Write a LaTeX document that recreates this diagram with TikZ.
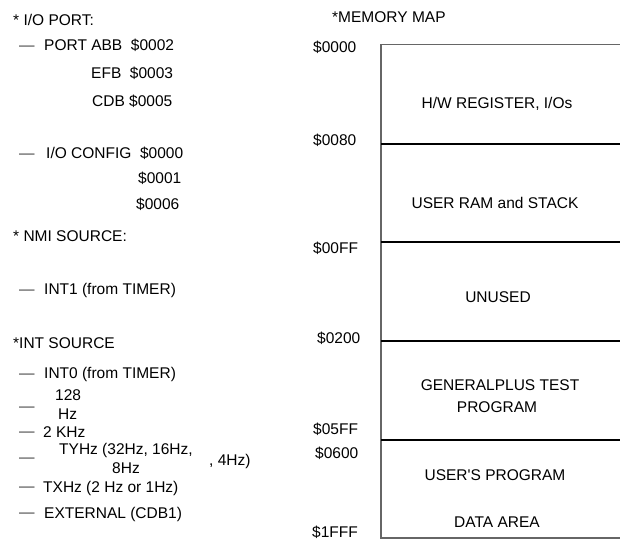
\documentclass[tikz,border=0pt]{standalone}
\usepackage{fontspec}
\setmainfont{Liberation Sans}[Ligatures=TeXOff]
\begin{document}
\begin{tikzpicture}[x=1pt,y=-1pt,
  lbl/.style={anchor=base west,inner sep=0pt,font=\fontsize{15.5}{17}\selectfont},
  ctr/.style={anchor=base,inner sep=0pt,font=\fontsize{15.5}{17}\selectfont},
  dsh/.style={anchor=base west,inner sep=0pt,font=\fontsize{15.5}{17}\selectfont,text=black!75},
  outline/.style={draw=black!60,line width=1.1pt},
  divider/.style={draw=black,line width=1.6pt}]
\useasboundingbox (0,0) rectangle (620,542);
% left column
\node[lbl] (io) at (13,25.5) {* I/O PORT:};
\node[dsh] (d1) at (19,50.2) {—};
\node[lbl] (pabb) at (44,50.5) {PORT ABB\ \ \$0002};
\node[lbl] (efb) at (91,78.5) {EFB\ \ \$0003};
\node[lbl] (cdb) at (92,106.5) {CDB \$0005};
\node[dsh] (d2) at (19,158.2) {—};
\node[lbl] (iocfg) at (46,158.5) {I/O CONFIG\ \ \$0000};
\node[lbl] (c1) at (138,183.5) {\$0001};
\node[lbl] (c6) at (136,209.5) {\$0006};
\node[lbl] (nmi) at (13,241.5) {* NMI SOURCE:};
\node[dsh] (d3) at (19,294.2) {—};
\node[lbl] (int1) at (44,294.5) {INT1 (from TIMER)};
\node[lbl] (ints) at (13,348.5) {*INT SOURCE};
\node[dsh] (d4) at (19,378.2) {—};
\node[lbl] (int0) at (44,378.5) {INT0 (from TIMER)};
\node[dsh] (d5) at (19,411.2) {—};
\node[lbl] (h128) at (55,400.5) {128};
\node[lbl] (hz) at (58,419.5) {Hz};
\node[dsh] (d6) at (19,436.2) {—};
\node[lbl] (k2) at (43,437.5) {2 KHz};
\node[dsh] (d7) at (19,462.2) {—};
\node[lbl] (ty) at (59,454.5) {TYHz (32Hz, 16Hz,};
\node[lbl] (hz8) at (112,473.5) {8Hz};
\node[lbl] (hz4) at (209,465.5) {, 4Hz)};
\node[dsh] (d8) at (19,491.2) {—};
\node[lbl] (tx) at (43,492.5) {TXHz (2 Hz or 1Hz)};
\node[dsh] (d9) at (19,517.2) {—};
\node[lbl] (ext) at (44,518.5) {EXTERNAL (CDB1)};
% memory map
\node[lbl] (mm) at (332,22.5) {*MEMORY MAP};
\node[lbl] (a0) at (313,52.5) {\$0000};
\node[lbl] (a80) at (313,145.5) {\$0080};
\node[lbl] (aff) at (313,253.5) {\$00FF};
\node[lbl] (a200) at (317,343.5) {\$0200};
\node[lbl] (a5ff) at (313,434.5) {\$05FF};
\node[lbl] (a600) at (315,458.5) {\$0600};
\node[lbl] (a1fff) at (312,537.5) {\$1FFF};
\draw[outline] (621,44.5) -- (381,44.5) -- (381,538) -- (621,538);
\draw[divider] (381,144) -- (621,144);
\draw[divider] (381,242) -- (621,242);
\draw[divider] (381,341) -- (621,341);
\draw[divider,line width=1.3pt] (381,440) -- (621,440);
\node[ctr] (hw) at (497,108.5) {H/W REGISTER, I/Os};
\node[ctr] (ram) at (495,208.5) {USER RAM and STACK};
\node[ctr] (unused) at (498,302.5) {UNUSED};
\node[ctr] (gp1) at (500,390.5) {GENERALPLUS TEST};
\node[ctr] (gp2) at (497,412.5) {PROGRAM};
\node[ctr] (up) at (495,480.5) {USER'S PROGRAM};
\node[ctr] (da) at (497,527.5) {DATA AREA};
\end{tikzpicture}
\end{document}
